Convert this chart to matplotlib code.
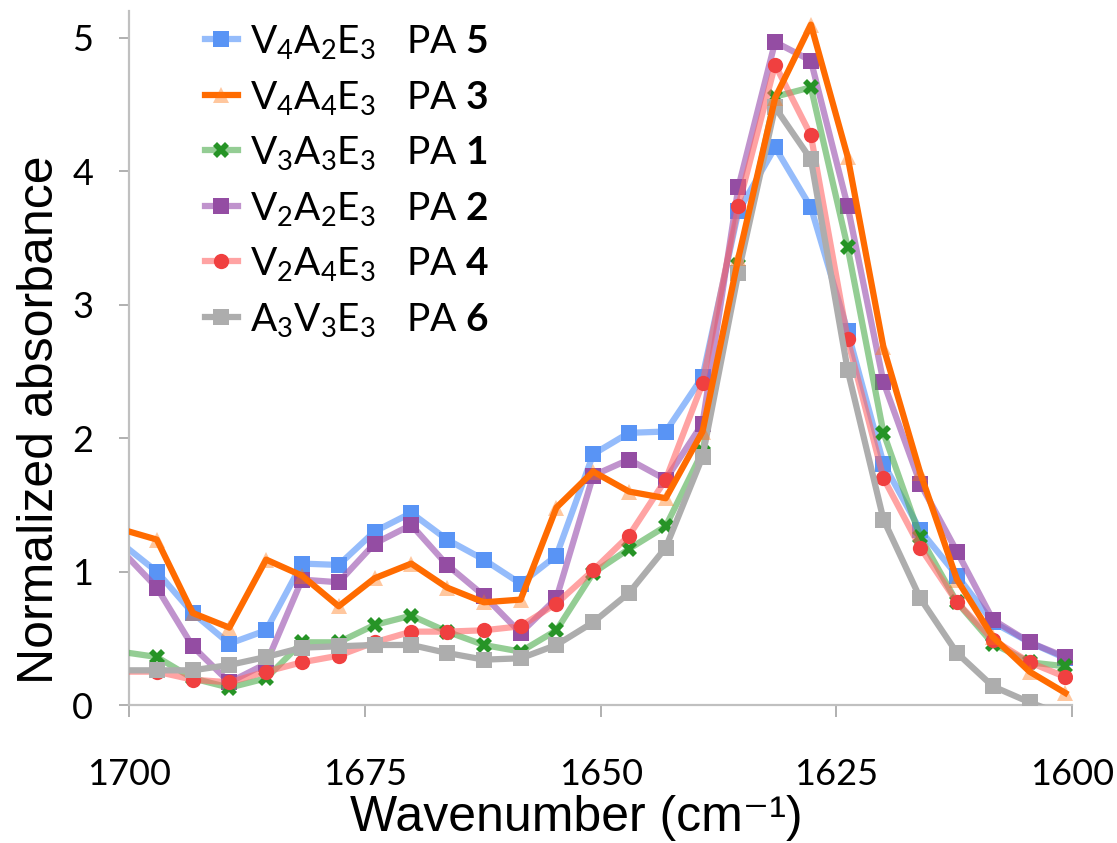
import matplotlib
matplotlib.use("Agg")
import matplotlib.pyplot as plt

plt.rcParams['mathtext.fontset'] = 'custom'
plt.rcParams['mathtext.rm'] = 'Lato'
plt.rcParams['mathtext.bf'] = 'Lato:bold'
plt.rcParams['mathtext.it'] = 'Lato:italic'

wavenumber = [1701.0, 1697.1, 1693.3, 1689.4, 1685.5, 1681.7, 1677.8, 1674.0, 1670.1,
              1666.3, 1662.4, 1658.5, 1654.7, 1650.8, 1647.0, 1643.1, 1639.2, 1635.4,
              1631.5, 1627.7, 1623.8, 1620.0, 1616.1, 1612.2, 1608.4, 1604.5, 1600.7]

pa5 = [1.22, 1.00, 0.69, 0.46, 0.56, 1.06, 1.05, 1.30, 1.44, 1.24, 1.09, 0.91, 1.12, 1.88,
       2.04, 2.05, 2.46, 3.70, 4.18, 3.73, 2.80, 1.81, 1.31, 0.97, 0.62, 0.47, 0.35]
pa3 = [1.32, 1.24, 0.69, 0.58, 1.09, 0.97, 0.74, 0.95, 1.06, 0.88, 0.77, 0.79, 1.48, 1.75,
       1.60, 1.55, 2.05, 3.35, 4.55, 5.10, 4.11, 2.68, 1.74, 0.94, 0.51, 0.25, 0.09]
pa1 = [0.40, 0.36, 0.20, 0.13, 0.20, 0.47, 0.47, 0.60, 0.67, 0.55, 0.45, 0.40, 0.56, 0.99,
       1.17, 1.34, 1.90, 3.30, 4.56, 4.63, 3.43, 2.04, 1.26, 0.77, 0.46, 0.32, 0.29]
pa2 = [1.17, 0.88, 0.44, 0.17, 0.31, 0.94, 0.92, 1.21, 1.35, 1.05, 0.82, 0.54, 0.80, 1.72,
       1.84, 1.69, 2.11, 3.88, 4.97, 4.83, 3.74, 2.42, 1.66, 1.15, 0.64, 0.47, 0.36]
pa4 = [0.25, 0.25, 0.19, 0.17, 0.25, 0.32, 0.37, 0.47, 0.55, 0.55, 0.56, 0.59, 0.76, 1.01,
       1.27, 1.69, 2.41, 3.74, 4.80, 4.27, 2.74, 1.70, 1.18, 0.77, 0.49, 0.32, 0.21]
pa6 = [0.26, 0.26, 0.26, 0.30, 0.36, 0.43, 0.44, 0.45, 0.45, 0.39, 0.34, 0.35, 0.45, 0.62,
       0.84, 1.18, 1.86, 3.24, 4.48, 4.09, 2.51, 1.39, 0.80, 0.39, 0.14, 0.02, -0.08]

labels = [r"V$_{\mathrm{4}}$A$_{\mathrm{2}}$E$_{\mathrm{3}}$   PA $\mathbf{5}$",
          r"V$_{\mathrm{4}}$A$_{\mathrm{4}}$E$_{\mathrm{3}}$   PA $\mathbf{3}$",
          r"V$_{\mathrm{3}}$A$_{\mathrm{3}}$E$_{\mathrm{3}}$   PA $\mathbf{1}$",
          r"V$_{\mathrm{2}}$A$_{\mathrm{2}}$E$_{\mathrm{3}}$   PA $\mathbf{2}$",
          r"V$_{\mathrm{2}}$A$_{\mathrm{4}}$E$_{\mathrm{3}}$   PA $\mathbf{4}$",
          r"A$_{\mathrm{3}}$V$_{\mathrm{3}}$E$_{\mathrm{3}}$   PA $\mathbf{6}$"]

xticks = [1700, 1675, 1650, 1625, 1600]
yticks = [0, 1, 2, 3, 4, 5]

series = [pa5, pa3, pa1, pa2, pa4, pa6]
line_colors = [(0.36, 0.60, 0.98, 0.65), (1.0, 0.42, 0.0, 1.0), (0.30, 0.68, 0.30, 0.6),
               (0.62, 0.35, 0.70, 0.65), (1.0, 0.40, 0.40, 0.6), (0.68, 0.68, 0.68, 1.0)]
marker_colors = [(0.35, 0.58, 0.96, 1.0), (1.0, 0.45, 0.05, 0.40), (0.15, 0.58, 0.15, 1.0),
                 (0.58, 0.30, 0.64, 1.0), (0.94, 0.25, 0.25, 1.0), (0.68, 0.68, 0.68, 1.0)]
markers = ['s', '^', 'X', 's', 'o', 's']
msizes = [11, 11, 11, 11, 11, 11]
zorders = [2, 7, 3, 2.5, 4, 5]

fig = plt.figure(figsize=(11.17, 8.43), dpi=100)
ax = fig.add_axes([0.1159, 0.1637, 0.8438, 0.8229])

handles = []
for ys, lc, mc, mk, ms, zo, lab in zip(series, line_colors, marker_colors, markers,
                                        msizes, zorders, labels):
    h, = ax.plot(wavenumber, ys, color=lc, lw=4.5, marker=mk, markersize=ms,
                 markerfacecolor=mc, markeredgecolor=mc, markeredgewidth=0,
                 zorder=zo, label=lab)
    handles.append(h)

ax.set_xlim(1700, 1600)
ax.set_ylim(0, 5.2)
ax.set_xticks(xticks)
ax.set_yticks(yticks)
ax.set_xticklabels([str(v) for v in xticks], fontname='Lato', fontsize=26)
ax.set_yticklabels([str(v) for v in yticks], fontname='Lato', fontsize=26)

for s in ['top', 'right']:
    ax.spines[s].set_visible(False)
for s in ['left', 'bottom']:
    ax.spines[s].set_color('#c0c0c0')
    ax.spines[s].set_linewidth(1.6)
ax.tick_params(axis='x', direction='out', length=8.5, width=1.4, color='#b0b0b0', pad=30)
ax.tick_params(axis='y', direction='out', length=7, width=1.4, color='#b0b0b0', pad=19)

ax.set_xlabel("Wavenumber (cm\u207b\u00b9)", family=['Liberation Sans', 'DejaVu Sans'],
              fontsize=36, va='baseline')
ax.xaxis.set_label_coords(0.474, -0.181)
ax.set_ylabel("Normalized absorbance", family=['Liberation Sans', 'DejaVu Sans'],
              fontsize=36, va='center')
ax.yaxis.set_label_coords(-0.095, 0.411)

leg = ax.legend(handles=handles, loc='upper left', bbox_to_anchor=(0.08, 0.983),
                frameon=False, prop={'family': 'Lato', 'size': 28},
                handlelength=0.85, handletextpad=0.3, labelspacing=0.45,
                borderpad=0.0, borderaxespad=0.0)

fig.savefig("out.png", dpi=100)
